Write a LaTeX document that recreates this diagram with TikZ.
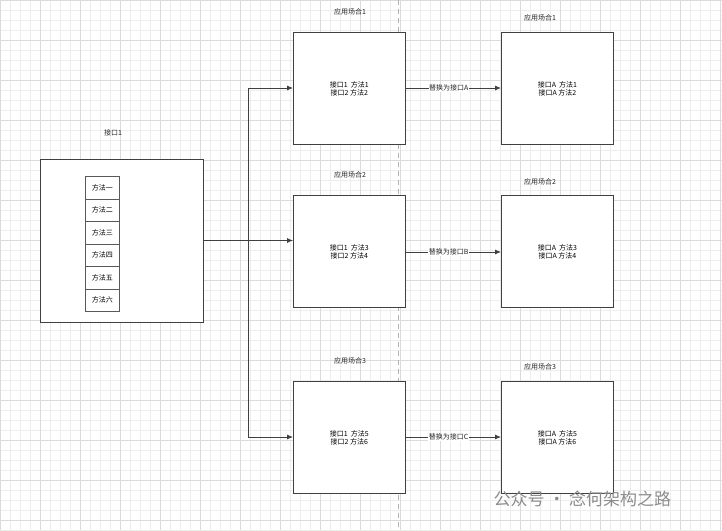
\documentclass[tikz,border=0pt]{standalone}
\usepackage{fontspec}
\setmainfont{Noto Sans CJK SC}
\usetikzlibrary{arrows.meta}
\begin{document}
\begin{tikzpicture}[x=1pt,y=-1pt,
  box/.style={draw=black!75,fill=white,line width=0.8pt,minimum width=112pt,minimum height=112pt,anchor=north west,inner sep=0pt,font=\fontsize{7}{8}\selectfont,align=center},
  cell/.style={draw=black!65,fill=white,line width=0.6pt,minimum width=34pt,minimum height=22.5pt,anchor=north west,inner sep=0pt,font=\fontsize{7}{8}\selectfont},
  lbl/.style={font=\fontsize{7}{8}\selectfont,text=black!85},
  arr/.style={line width=0.8pt,draw=black!75,-{Latex[length=6pt,width=5pt]}},
  ln/.style={line width=0.8pt,draw=black!75}]
\fill[white] (0,0) rectangle (722,530);
\useasboundingbox (0,0) rectangle (722,530);
\foreach \x in {0,10,...,720} \draw[black!7,line width=0.3pt] (\x,0) -- (\x,530);
\foreach \y in {0,10,...,530} \draw[black!7,line width=0.3pt] (0,\y) -- (722,\y);
\foreach \x in {0,40,...,720} \draw[black!14,line width=0.4pt] (\x,0) -- (\x,530);
\foreach \y in {0,40,...,530} \draw[black!14,line width=0.4pt] (0,\y) -- (722,\y);
\draw[black!30,line width=0.8pt,dash pattern=on 5pt off 4pt] (398,0) -- (398,530);
\node[box,minimum width=163pt,minimum height=163pt] (L) at (40,159) {};
\node[lbl] (Lt) at (113,133) {接口1};
\foreach \t [count=\i from 0] in {方法一,方法二,方法三,方法四,方法五,方法六}
  \node[cell] (c\i) at (85,176+22.5*\i) {\t};
\node[box] (M1) at (293,32) {接口1\ \ 方法1\\接口2 方法2};
\node[box] (M2) at (293,195) {接口1\ \ 方法3\\接口2 方法4};
\node[box] (M3) at (293,381) {接口1\ \ 方法5\\接口2 方法6};
\node[box] (R1) at (501,32) {接口A\ \ 方法1\\接口A 方法2};
\node[box] (R2) at (501,195) {接口A\ \ 方法3\\接口A 方法4};
\node[box] (R3) at (501,381) {接口A\ \ 方法5\\接口A 方法6};
\node[lbl] at (350,12) {应用场合1};
\node[lbl] at (350,175) {应用场合2};
\node[lbl] at (350,361) {应用场合3};
\node[lbl] at (540,18) {应用场合1};
\node[lbl] at (540,182) {应用场合2};
\node[lbl] at (540,367) {应用场合3};
\coordinate (J) at (248,240.5);
\draw[ln,line width=1.1pt] (L.east |- J) -- (J);
\draw[arr] (J) |- (M1.west |- 0,88);
\draw[arr] (J) -- (M2.west |- J);
\draw[arr] (J) |- (M3.west |- 0,437);
\draw[arr] (M1.east |- 0,88) -- node[lbl,fill=white,inner sep=0.5pt,pos=0.45] {替换为接口A} (R1.west |- 0,88);
\draw[arr] (M2.east |- 0,252) -- node[lbl,fill=white,inner sep=0.5pt,pos=0.45] {替换为接口B} (R2.west |- 0,252);
\draw[arr] (M3.east |- 0,437) -- node[lbl,fill=white,inner sep=0.5pt,pos=0.45] {替换为接口C} (R3.west |- 0,437);
\node[font=\fontsize{17}{19}\selectfont,text=black!45,anchor=west] (wm) at (490,499) {公众号 · 念何架构之路};
\end{tikzpicture}
\end{document}
